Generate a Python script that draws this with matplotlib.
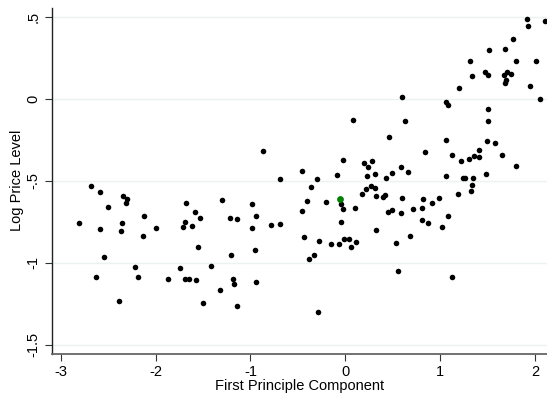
import matplotlib
matplotlib.use("Agg")
import matplotlib.pyplot as plt

plt.rcParams['font.family'] = ['Liberation Sans', 'DejaVu Sans']

pc1 = [-2.807, -2.680, -2.588, -2.588, -2.504, -2.340, -2.304, -2.315, -2.357, -2.361,
       -2.119, -1.992, -2.129, -2.540, -2.217, -2.627, -2.185, -1.866, -1.743, -2.388,
       -0.865, -0.686, -1.682, -1.297, -0.984, -1.588, -1.693, -1.532, -1.219, -1.145,
       -0.942, -1.708, -1.613, -0.987, -0.781, -0.692, -1.553, -1.208, -0.956, -1.416,
       -1.687, -1.645, -1.574, -1.184, -1.170, -0.939, -1.324, -1.503, -1.142,
       0.077, 0.631, 0.456, -0.025, 0.199, 0.277, 0.235, -0.460, -0.092, 0.224,
       0.309, 0.488, 0.428, 0.589, 0.660, -0.296, -0.366, 0.214, 0.270, 0.315,
       0.175, 0.326, 0.396, 0.417, 0.596, -0.408, -0.204, -0.460, -0.050, -0.028,
       0.098, 0.446, 0.488, 0.583, 0.709, -0.050, 0.326, -0.433, -0.012, 0.038,
       0.681, -0.278, -0.152, -0.064, 0.056, 0.115, 0.536, -0.331, -0.380, 0.554,
       -0.286, 0.593, 1.913, 1.924, 2.100, 1.769, 1.516, 1.685, 1.316, 1.794,
       2.005, 1.337, 1.468, 1.499, 1.674, 1.699, 1.741, 1.695, 1.685, 1.945,
       1.200, 2.053, 1.060, 1.081, 1.499, 1.499, 1.060, 1.489, 1.573, 0.842,
       1.120, 1.215, 1.302, 1.358, 1.411, 1.404, 1.647, 1.794, 1.063, 1.239,
       1.257, 1.341, 1.337, 1.323, 1.484, 1.186, 0.986, 0.821, 0.916, 0.810,
       1.084, 0.804, 0.867, 1.015, 1.120]

log_price = [-0.756, -0.532, -0.567, -0.793, -0.659, -0.593, -0.613, -0.634, -0.760, -0.809,
             -0.713, -0.790, -0.837, -0.965, -1.026, -1.085, -1.085, -1.099, -1.035, -1.234,
             -0.317, -0.490, -0.634, -0.616, -0.644, -0.691, -0.750, -0.726, -0.727, -0.732,
             -0.713, -0.784, -0.778, -0.788, -0.770, -0.762, -0.902, -0.951, -0.921, -1.018,
             -1.099, -1.099, -1.107, -1.101, -1.128, -1.118, -1.165, -1.246, -1.264,
             -0.128, -0.136, -0.234, -0.372, -0.392, -0.378, -0.415, -0.441, -0.463, -0.471,
             -0.461, -0.455, -0.482, -0.418, -0.445, -0.491, -0.538, -0.552, -0.532, -0.543,
             -0.581, -0.593, -0.598, -0.587, -0.604, -0.622, -0.628, -0.685, -0.644, -0.673,
             -0.665, -0.689, -0.677, -0.697, -0.674, -0.752, -0.801, -0.841, -0.854, -0.854,
             -0.839, -0.866, -0.888, -0.886, -0.902, -0.872, -0.882, -0.955, -0.976, -1.051,
             -1.299, 0.009, 0.488, 0.445, 0.472, 0.362, 0.297, 0.305, 0.232, 0.228,
             0.230, 0.140, 0.161, 0.145, 0.143, 0.163, 0.149, 0.114, 0.098, 0.079,
             0.067, 0.000, -0.020, -0.038, -0.065, -0.138, -0.252, -0.258, -0.270, -0.327,
             -0.341, -0.380, -0.368, -0.348, -0.315, -0.355, -0.343, -0.410, -0.471, -0.485,
             -0.485, -0.485, -0.526, -0.561, -0.459, -0.583, -0.604, -0.613, -0.636, -0.666,
             -0.713, -0.740, -0.756, -0.782, -1.087]

highlight_x = [-0.054]
highlight_y = [-0.612]

x_ticks = [-3, -2, -1, 0, 1, 2]
x_tick_labels = ['-3', '-2', '-1', '0', '1', '2']
y_ticks = [0.5, 0, -0.5, -1, -1.5]
y_tick_labels = ['.5', '0', '-.5', '-1', '-1.5']

fig = plt.figure(figsize=(5.47, 3.94), dpi=100)
ax = fig.add_axes([0.0945, 0.1023, 0.9055, 0.8777])

ax.scatter(pc1, log_price, s=16, color='black', linewidths=0, zorder=3)
ax.scatter(highlight_x, highlight_y, s=24, color='#008000', linewidths=0, zorder=4)

ax.set_xlim(-3.094, 2.124)
ax.set_ylim(-1.555, 0.553)

ax.set_xticks(x_ticks)
ax.set_xticklabels(x_tick_labels)
ax.set_yticks(y_ticks)
ax.set_yticklabels(y_tick_labels, rotation=90, va='center')

for v in y_ticks:
    ax.axhline(v, color='#eaf2f3', linewidth=1.0, zorder=1)

for side in ['top', 'right']:
    ax.spines[side].set_visible(False)
ax.spines['left'].set_color('#222222')
ax.spines['left'].set_linewidth(1.0)
ax.spines['bottom'].set_color('#666666')
ax.spines['bottom'].set_linewidth(1.3)

ax.tick_params(axis='both', direction='out', length=5, width=0.8, color='#333333',
               labelsize=10.5, labelcolor='black', pad=3)

ax.set_xlabel('First Principle Component', fontsize=10.5, labelpad=0)
ax.set_ylabel('Log Price Level', fontsize=10.5, labelpad=2)

fig.savefig('out.png', dpi=100, facecolor='white')
